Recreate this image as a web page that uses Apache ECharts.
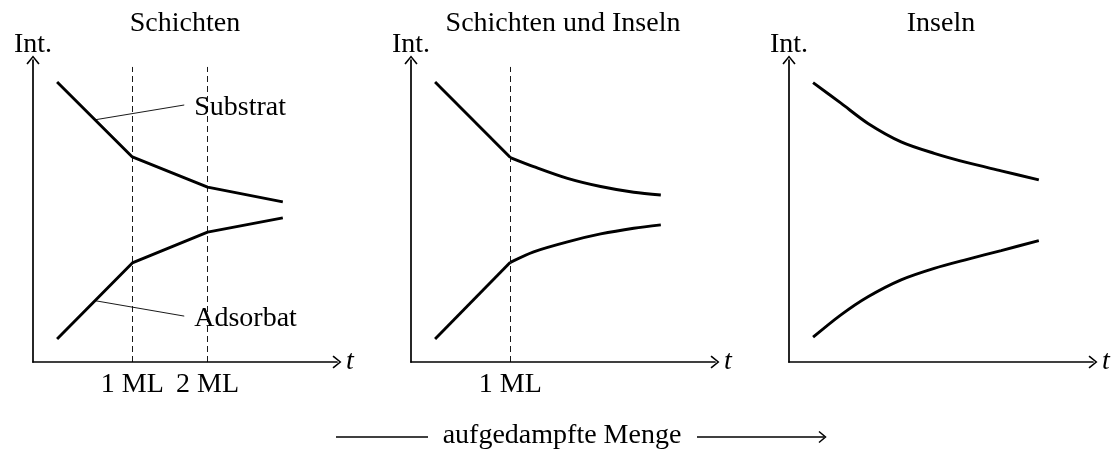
<!DOCTYPE html>
<html>
<head>
<meta charset="utf-8">
<title>Wachstumsmodi</title>
<script src="https://cdn.jsdelivr.net/npm/echarts@6/dist/echarts.min.js"></script>
<style>
  html, body { margin: 0; padding: 0; background: #fff; }
  #chart { width: 1117px; height: 452px; }
</style>
</head>
<body>
<div id="chart"></div>
<script>
// Bedeckung t in Monolagen, Intensität in willkürlichen Einheiten
const panelTitles = ['Schichten', 'Schichten und Inseln', 'Inseln'];
const mlTicks = [[1, 2], [1], []];

// Schichten: abschnittsweise linear
const t1 = [0, 1, 2, 3];
const substrat1 = [9.27, 6.79, 5.79, 5.30];
const adsorbat1 = [0.76, 3.28, 4.30, 4.77];

// Schichten und Inseln: linear bis 1 ML, danach gekrümmt
const t2lin = [0, 1];
const substrat2lin = [9.27, 6.77];
const adsorbat2lin = [0.76, 3.30];
const t2 = [1, 1.31, 1.76, 2.2, 2.64, 3.0];
const substrat2 = [6.77, 6.47, 6.08, 5.81, 5.62, 5.53];
const adsorbat2 = [3.30, 3.65, 3.98, 4.24, 4.43, 4.54];

// Inseln
const t3 = [0, 0.37, 0.73, 1.17, 1.61, 2.05, 2.5, 3.0];
const substrat3 = [9.25, 8.57, 7.90, 7.29, 6.91, 6.60, 6.33, 6.03];
const adsorbat3 = [0.82, 1.56, 2.16, 2.72, 3.10, 3.40, 3.69, 4.02];

// Zeigerlinien für die Beschriftung im ersten Bild
const substratPointerT = [0.505, 1.69];
const substratPointerI = [8.02, 8.51];
const adsorbatPointerT = [0.505, 1.69];
const adsorbatPointerI = [2.03, 1.52];
const dashTop = 9.77;

const FONT = 'Liberation Serif';
const lefts = [33, 411, 789];
const chevron = 'path://M0,6 L5,0 L10,6 L9,6.8 L5,1.7 L1,6.8 Z';

let myChart = echarts.init(document.getElementById('chart'), null, { renderer: 'canvas' });

function zip(xs, ys) {
  return xs.map((x, i) => [x, ys[i]]);
}

function curve(idx, data, smooth) {
  return {
    type: 'line',
    xAxisIndex: idx,
    yAxisIndex: idx,
    data: data,
    smooth: smooth ? 0.3 : false,
    symbol: 'none',
    silent: true,
    lineStyle: { color: '#000', width: 2.9 },
  };
}

function pointer(ts, is, text) {
  return {
    type: 'line',
    xAxisIndex: 0,
    yAxisIndex: 0,
    data: zip(ts, is),
    symbol: 'none',
    silent: true,
    lineStyle: { color: '#000', width: 0.9 },
    endLabel: {
      show: true,
      formatter: text,
      distance: 10,
      offset: [0, 3],
      color: '#000',
      fontFamily: FONT,
      fontSize: 28,
    },
  };
}

let series = [
  curve(0, zip(t1, substrat1), false),
  curve(0, zip(t1, adsorbat1), false),
  curve(1, zip(t2lin, substrat2lin), false),
  curve(1, zip(t2lin, adsorbat2lin), false),
  curve(1, zip(t2, substrat2), true),
  curve(1, zip(t2, adsorbat2), true),
  curve(2, zip(t3, substrat3), true),
  curve(2, zip(t3, adsorbat3), true),
  pointer(substratPointerT, substratPointerI, 'Substrat'),
  pointer(adsorbatPointerT, adsorbatPointerI, 'Adsorbat'),
];

// gestrichelte Linien bei ganzen Monolagen
[0, 2].forEach(function (si, k) {
  series[si].markLine = {
    silent: true,
    symbol: ['none', 'none'],
    label: { show: false },
    lineStyle: { color: '#000', width: 0.9, type: [6, 4] },
    data: mlTicks[k].map(v => [{ coord: [v, 0] }, { coord: [v, dashTop] }]),
  };
});

let option = {
  animation: false,
  backgroundColor: '#fff',
  title: panelTitles.map((text, i) => ({
    text: text,
    left: lefts[i] + 152,
    top: 10,
    padding: 0,
    textAlign: 'center',
    textStyle: { fontFamily: FONT, fontSize: 28, fontWeight: 'normal', color: '#000' },
  })),
  grid: lefts.map(l => ({
    left: l,
    top: 60,
    width: 304,
    height: 302,
    outerBoundsMode: 'none',
    containLabel: false,
  })),
  xAxis: lefts.map((l, i) => ({
    type: 'value',
    gridIndex: i,
    min: -0.32,
    max: 3.72,
    name: 't',
    nameLocation: 'end',
    nameGap: 9,
    nameTextStyle: { fontFamily: FONT, fontSize: 28, fontStyle: 'italic', color: '#000', verticalAlign: 'middle' },
    axisLine: {
      onZero: false,
      symbol: ['none', chevron],
      symbolSize: [14, 9],
      lineStyle: { color: '#000', width: 1.7 },
    },
    axisTick: { show: false },
    splitLine: { show: false },
    axisLabel: {
      show: mlTicks[i].length > 0,
      customValues: mlTicks[i],
      formatter: v => v + ' ML',
      margin: 9,
      color: '#000',
      fontFamily: FONT,
      fontSize: 28,
    },
  })),
  yAxis: lefts.map((l, i) => ({
    type: 'value',
    gridIndex: i,
    min: 0,
    max: 10,
    name: 'Int.',
    nameLocation: 'end',
    nameGap: 1,
    nameTextStyle: { fontFamily: FONT, fontSize: 28, color: '#000' },
    axisLine: {
      show: true,
      onZero: false,
      symbol: ['none', chevron],
      symbolSize: [14, 9],
      lineStyle: { color: '#000', width: 1.7 },
    },
    axisTick: { show: false },
    axisLabel: { show: false },
    splitLine: { show: false },
  })),
  graphic: [
    { type: 'line', shape: { x1: 336, y1: 437, x2: 428, y2: 437 }, style: { stroke: '#000', lineWidth: 1.5 } },
    { type: 'text', x: 562, y: 436, style: { text: 'aufgedampfte Menge', align: 'center', verticalAlign: 'middle', font: '28px "Liberation Serif"', fill: '#000' } },
    { type: 'line', shape: { x1: 697, y1: 437, x2: 824, y2: 437 }, style: { stroke: '#000', lineWidth: 1.5 } },
    { type: 'polyline', shape: { points: [[819, 431.5], [825.5, 437], [819, 442.5]] }, style: { stroke: '#000', lineWidth: 1.5, fill: null } },
  ],
  series: series,
};

option && myChart.setOption(option);
</script>
</body>
</html>
